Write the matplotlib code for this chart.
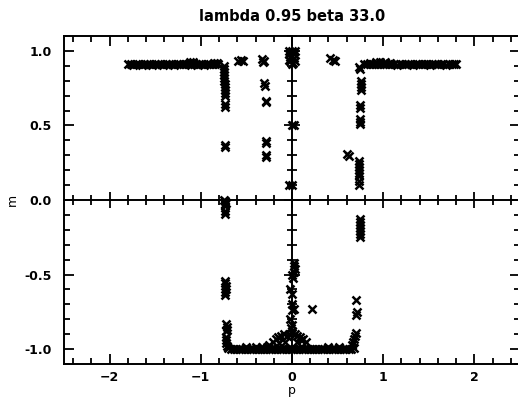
import matplotlib
matplotlib.use("Agg")
import matplotlib.pyplot as plt
from matplotlib.ticker import MultipleLocator

# ---- data (p, m) ----
# upper-left plateau
plateau_left_p = [-1.80, -1.77, -1.74, -1.71, -1.68, -1.65, -1.62, -1.59, -1.56, -1.53,
                  -1.50, -1.47, -1.44, -1.41, -1.38, -1.35, -1.32, -1.29, -1.26, -1.23,
                  -1.20, -1.17, -1.14, -1.11, -1.08, -1.05, -1.02, -0.99, -0.96, -0.93,
                  -0.90, -0.87, -0.84, -0.81, -1.12, -1.09, -0.86, -0.82]
plateau_left_m = [0.91, 0.91, 0.905, 0.91, 0.91, 0.905, 0.91, 0.91, 0.91, 0.905,
                  0.91, 0.91, 0.91, 0.905, 0.91, 0.91, 0.91, 0.905, 0.91, 0.91,
                  0.91, 0.91, 0.91, 0.905, 0.91, 0.91, 0.91, 0.91, 0.905, 0.91,
                  0.91, 0.91, 0.91, 0.91, 0.925, 0.925, 0.92, 0.92]

# left edge (p ~ -0.75)
edge_left_p = [-0.75, -0.75, -0.75, -0.75, -0.75, -0.75, -0.74, -0.74, -0.74, -0.74,
               -0.73, -0.73, -0.73, -0.73, -0.73,
               -0.75, -0.74, -0.72, -0.73, -0.74, -0.73, -0.73]
edge_left_m = [0.90, 0.88, 0.86, 0.84, 0.82, 0.80, 0.78, 0.76, 0.74, 0.72,
               0.70, 0.645, 0.625, 0.37, 0.355,
               0.0, -0.01, -0.02, -0.03, -0.04, -0.075, -0.095]

# isolated points between left edge and p = 0
mid_left_p = [-0.59, -0.56, -0.54, -0.33, -0.32, -0.31, -0.31, -0.30, -0.29, -0.29,
              -0.29, -0.28, -0.29, -0.28]
mid_left_m = [0.935, 0.94, 0.935, 0.945, 0.925, 0.935, 0.785, 0.765, 0.665, 0.655,
              0.395, 0.38, 0.305, 0.29]

# column at p ~ 0 (upper half)
center_up_p = [-0.03, 0.0, 0.03, -0.03, 0.02, -0.02, 0.02, -0.02, 0.01, 0.0,
               -0.03, 0.03, 0.0, 0.02, -0.03, 0.0]
center_up_m = [1.0, 1.0, 1.0, 0.98, 0.98, 0.96, 0.95, 0.93, 0.92, 0.91,
               0.94, 0.93, 0.50, 0.50, 0.10, 0.10]

# right side upper
plateau_right_p = [0.42, 0.45, 0.47, 0.74, 0.75,
                   0.79, 0.82, 0.85, 0.88, 0.91, 0.94, 0.97, 1.00, 1.03, 1.06,
                   1.09, 1.12, 1.15, 1.18, 1.21, 1.24, 1.27, 1.30, 1.33, 1.36,
                   1.39, 1.42, 1.45, 1.48, 1.51, 1.54, 1.57, 1.60, 1.63, 1.66,
                   1.69, 1.72, 1.75, 1.78, 1.80, 0.86, 0.92, 0.97, 1.02, 1.07]
plateau_right_m = [0.95, 0.94, 0.93, 0.89, 0.88,
                   0.91, 0.91, 0.91, 0.91, 0.91, 0.915, 0.91, 0.91, 0.91, 0.91,
                   0.91, 0.91, 0.905, 0.91, 0.91, 0.91, 0.91, 0.91, 0.905, 0.91,
                   0.91, 0.91, 0.91, 0.91, 0.905, 0.91, 0.91, 0.91, 0.91, 0.91,
                   0.905, 0.91, 0.91, 0.91, 0.91, 0.92, 0.925, 0.925, 0.925, 0.92]

edge_right_p = [0.76, 0.76, 0.76, 0.76, 0.75, 0.75, 0.75, 0.75, 0.75, 0.60, 0.62,
                0.74, 0.74, 0.74, 0.74, 0.74, 0.74, 0.74, 0.74,
                0.75, 0.75, 0.75, 0.75, 0.75, 0.75, 0.75]
edge_right_m = [0.80, 0.78, 0.76, 0.74, 0.64, 0.62, 0.54, 0.52, 0.51, 0.31, 0.295,
                0.26, 0.24, 0.22, 0.20, 0.18, 0.16, 0.13, 0.10,
                -0.13, -0.15, -0.17, -0.19, -0.21, -0.23, -0.25]

# column at p ~ 0 (lower half) and isolated lower points
center_low_p = [0.02, 0.02, 0.03, 0.02, 0.0, 0.01, -0.02, 0.0, 0.0, 0.02, 0.0,
                -0.02, 0.0, -0.01, 0.0, 0.22, 0.70, 0.71, 0.70]
center_low_m = [-0.42, -0.44, -0.46, -0.48, -0.50, -0.52, -0.60, -0.63, -0.70, -0.73, -0.74,
                -0.80, -0.84, -0.86, -0.88, -0.73, -0.67, -0.75, -0.77]

# left edge lower (p ~ -0.72)
edge_low_left_p = [-0.73, -0.73, -0.72, -0.72, -0.73, -0.73, -0.72, -0.71, -0.71, -0.72,
                   -0.72, -0.72, -0.72, -0.71]
edge_low_left_m = [-0.54, -0.56, -0.58, -0.60, -0.62, -0.64, -0.83, -0.85, -0.87, -0.88,
                   -0.92, -0.94, -0.96, -0.98]

# bottom band near m = -1 and the hump around p = 0
bottom_p = [-0.70, -0.67, -0.64, -0.61, -0.58, -0.55, -0.52, -0.49, -0.46, -0.43,
            -0.40, -0.37, -0.34, -0.31, -0.28, -0.25, -0.22, -0.19, -0.16, -0.13,
            -0.10, -0.07, -0.04, -0.01, 0.02, 0.05, 0.08, 0.11, 0.14, 0.17,
            0.20, 0.23, 0.26, 0.29, 0.32, 0.35, 0.38, 0.41, 0.44, 0.47,
            0.50, 0.53, 0.56, 0.59, 0.62, 0.65, 0.68,
            -0.50, -0.40, -0.33, -0.27, 0.40, 0.52,
            -0.25, -0.21, -0.18, -0.15, -0.12, -0.09, -0.06, -0.03, 0.0, 0.03,
            0.06, 0.09, 0.12, 0.15, -0.14, -0.08, 0.05, 0.10,
            0.66, 0.67, 0.68, 0.69, 0.70]
bottom_m = [-0.99, -1.0, -1.0, -1.0, -1.0, -1.0, -1.0, -1.0, -1.0, -1.0,
            -1.0, -1.0, -1.0, -1.0, -1.0, -1.0, -1.0, -1.0, -1.0, -1.0,
            -1.0, -1.0, -1.0, -1.0, -1.0, -1.0, -1.0, -1.0, -1.0, -1.0,
            -1.0, -1.0, -1.0, -1.0, -1.0, -1.0, -1.0, -1.0, -1.0, -1.0,
            -1.0, -1.0, -1.0, -1.0, -1.0, -1.0, -0.99,
            -0.985, -0.985, -0.985, -0.985, -0.985, -0.985,
            -0.97, -0.95, -0.93, -0.92, -0.91, -0.90, -0.91, -0.90, -0.89, -0.90,
            -0.91, -0.92, -0.93, -0.95, -0.96, -0.95, -0.95, -0.94,
            -0.97, -0.95, -0.93, -0.91, -0.89]

branches = [(plateau_left_p, plateau_left_m), (edge_left_p, edge_left_m),
            (mid_left_p, mid_left_m), (center_up_p, center_up_m),
            (plateau_right_p, plateau_right_m), (edge_right_p, edge_right_m),
            (center_low_p, center_low_m), (edge_low_left_p, edge_low_left_m),
            (bottom_p, bottom_m)]

plt.rcParams['font.family'] = 'DejaVu Sans'
plt.rcParams['font.weight'] = 'bold'

fig = plt.figure(figsize=(5.18, 4.03), dpi=100)
pos = [64 / 518, 39 / 403, 456 / 518, 328 / 403]
ax = fig.add_axes(pos)

for p, m in branches:
    ax.plot(p, m, linestyle='none', marker='x', color='black', markersize=5.5, markeredgewidth=1.8)

ax.set_xlim(-2.5, 2.5)
ax.set_ylim(-1.1, 1.1)
ax.xaxis.set_major_locator(MultipleLocator(1))
ax.xaxis.set_minor_locator(MultipleLocator(0.2))
ax.yaxis.set_major_locator(MultipleLocator(0.5))
ax.yaxis.set_minor_locator(MultipleLocator(0.1))
ax.yaxis.set_major_formatter(plt.FuncFormatter(lambda v, _: '%.1f' % v))
ax.tick_params(which='both', direction='in', top=True, right=True, width=1.3, labelsize=9)
ax.tick_params(which='major', length=7)
ax.tick_params(which='minor', length=4)
ax.tick_params(axis='y', pad=9)
ax.tick_params(axis='x', pad=5)
for s in ax.spines.values():
    s.set_linewidth(1.4)

ax.set_title('lambda 0.95 beta 33.0', fontsize=10.5, fontweight='bold', pad=11)
ax.set_xlabel('p', fontsize=9, labelpad=0)
ax.set_ylabel('m', fontsize=9, labelpad=4)

# axes through the origin with crossing ticks
ax0 = fig.add_axes(pos, sharex=ax, sharey=ax)
ax0.patch.set_visible(False)
ax0.spines['top'].set_visible(False)
ax0.spines['right'].set_visible(False)
ax0.spines['left'].set_position(('data', 0))
ax0.spines['bottom'].set_position(('data', 0))
ax0.spines['left'].set_linewidth(1.4)
ax0.spines['bottom'].set_linewidth(1.4)
ax0.tick_params(which='both', direction='inout', width=1.3, labelleft=False, labelbottom=False)
ax0.tick_params(which='major', length=12)
ax0.tick_params(which='minor', length=7)

fig.savefig('out.png', dpi=100)
